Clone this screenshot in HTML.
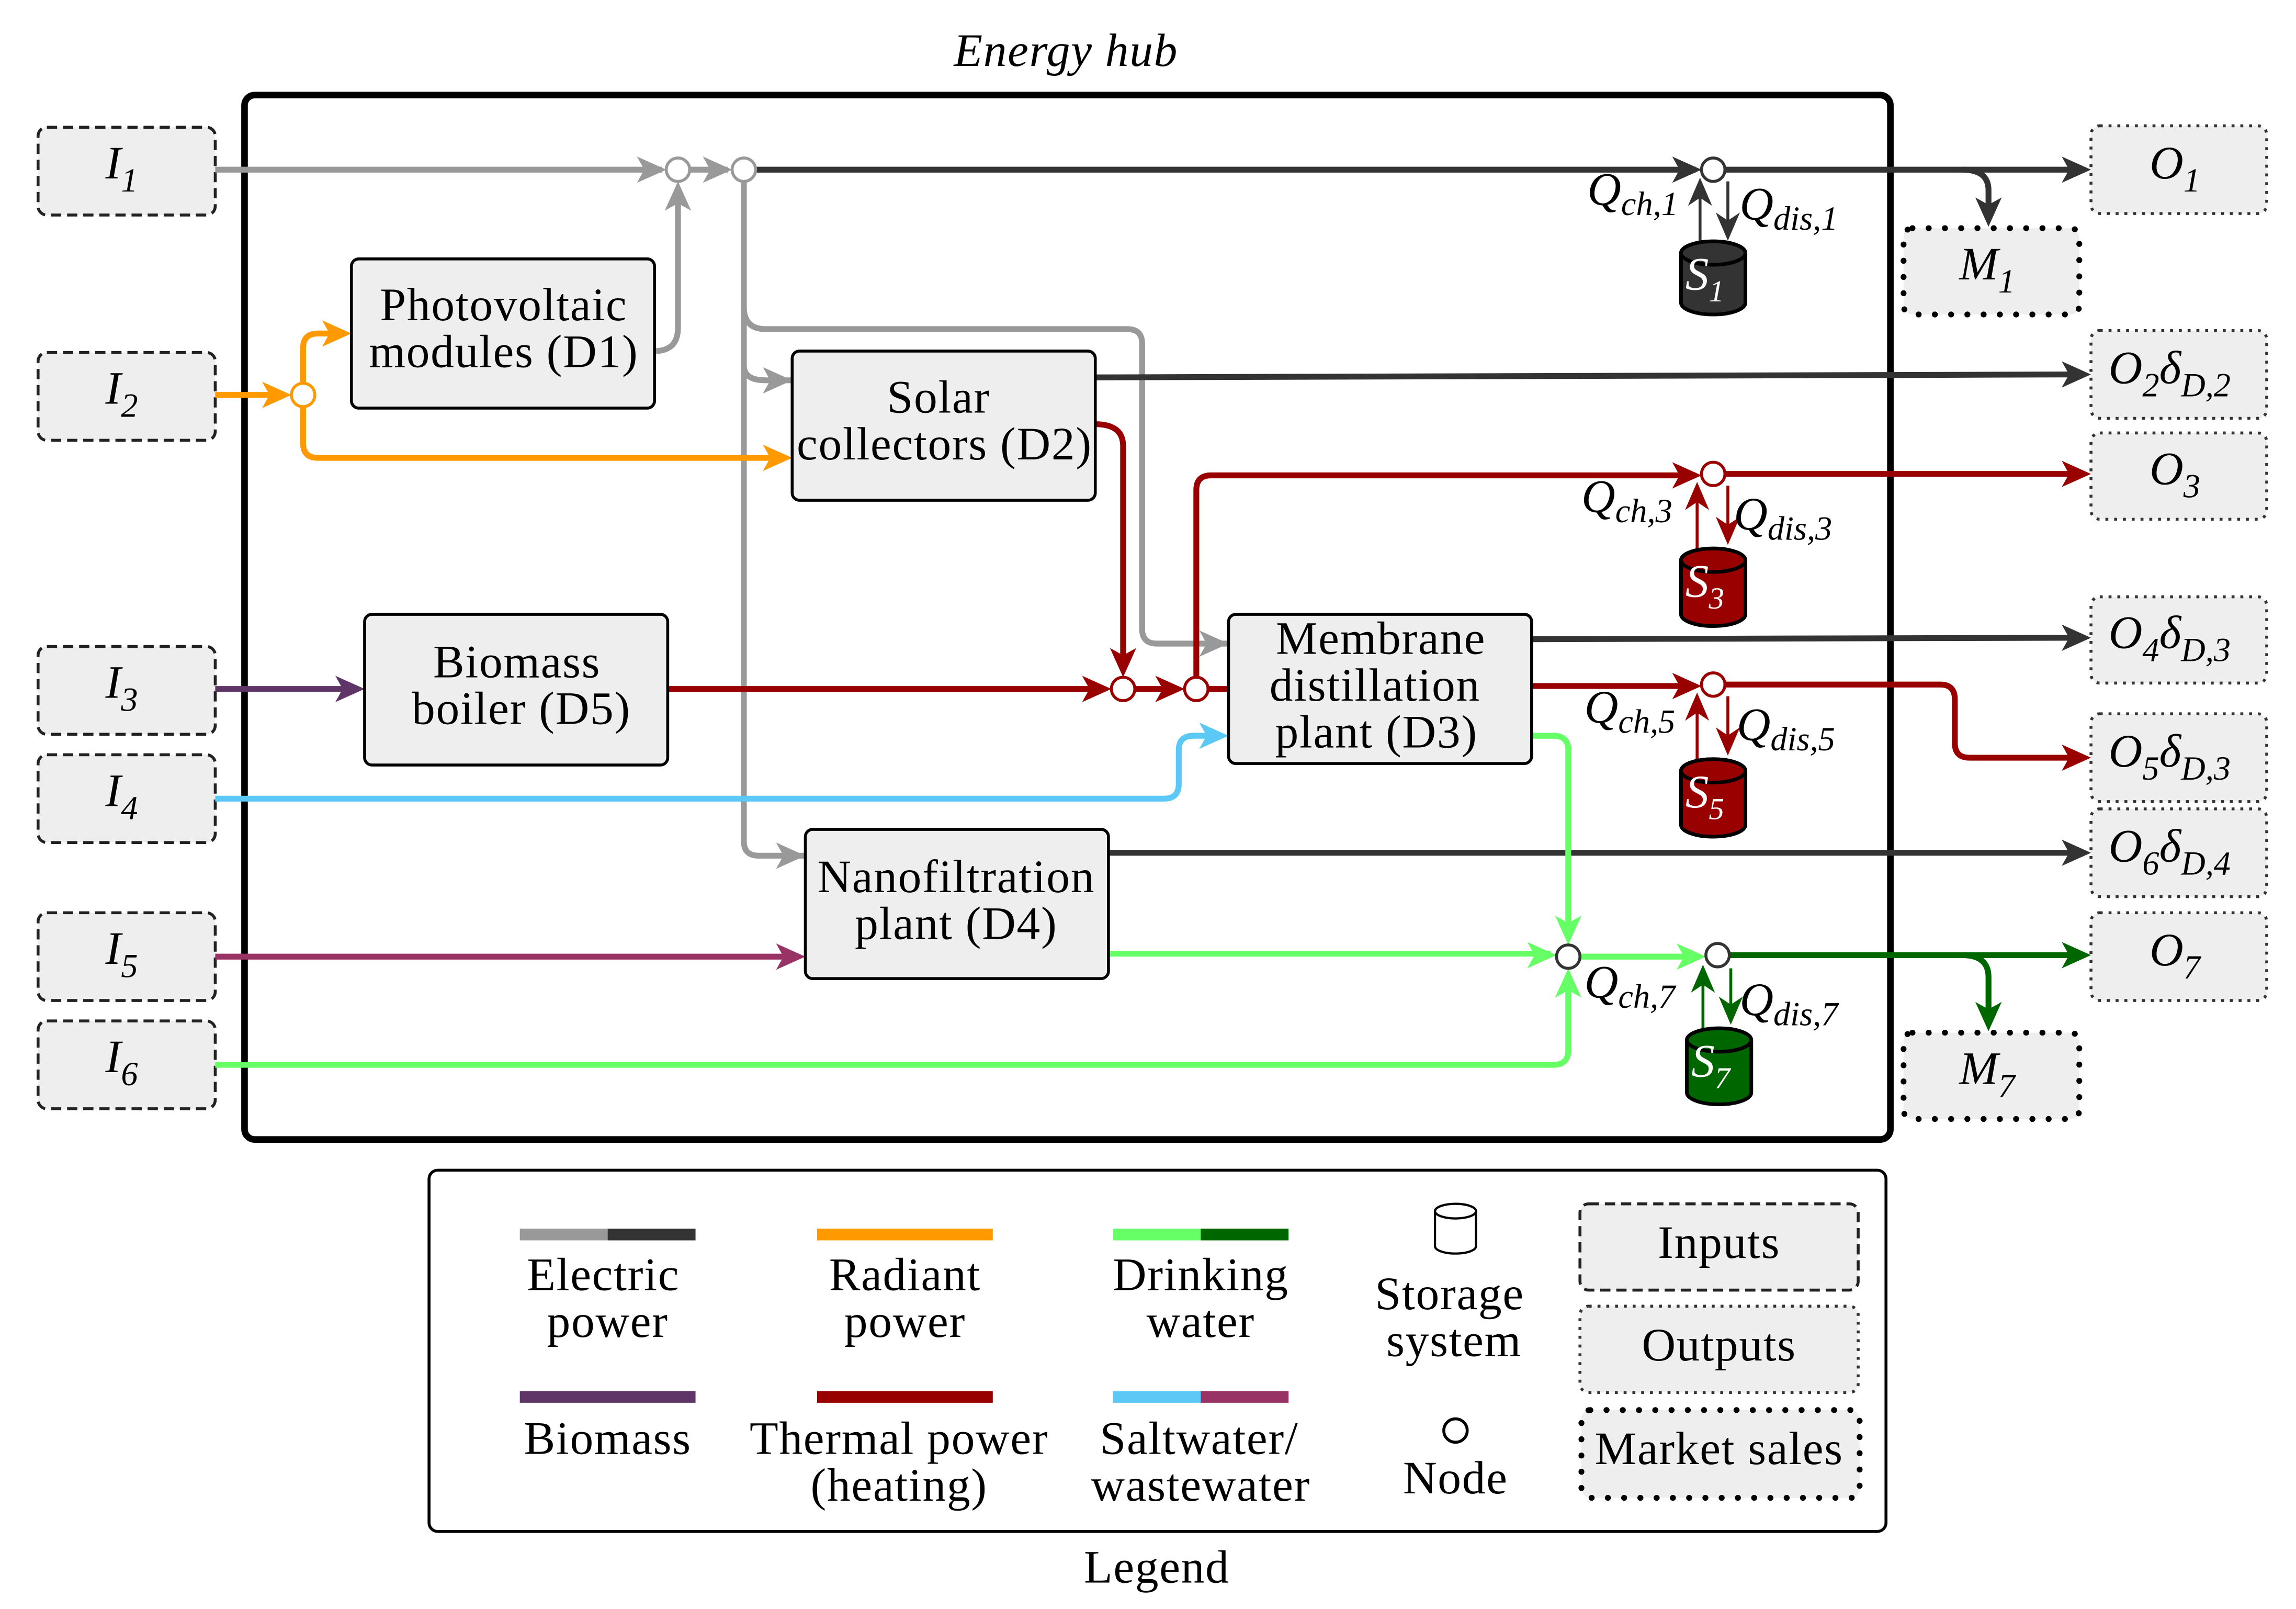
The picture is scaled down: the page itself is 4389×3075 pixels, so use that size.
<!DOCTYPE html>
<html><head><style>html,body{margin:0;padding:0;background:#fff}svg{display:block}</style></head><body>
<svg width="4389" height="3075" viewBox="0 0 1568 1100" preserveAspectRatio="none" xmlns="http://www.w3.org/2000/svg" font-family="Liberation Serif, serif">
<style>
.l{fill:none;stroke-width:4;stroke-linejoin:round}
.t{font-size:32px;text-anchor:middle;letter-spacing:0.6px}
.i{font-style:italic;font-size:32px}
</style>
<text x="728" y="45" class="t" font-style="italic" font-size="30">Energy hub</text>
<rect x="167" y="65" width="1124" height="714" rx="7" fill="none" stroke="#000" stroke-width="4.5"/>

<g fill="#eee" stroke="#222" stroke-width="2" stroke-dasharray="7,4">
<rect x="26" y="87" width="121" height="60" rx="6"/>
<rect x="26" y="241" width="121" height="60" rx="6"/>
<rect x="26" y="442" width="121" height="60" rx="6"/>
<rect x="26" y="516" width="121" height="60" rx="6"/>
<rect x="26" y="624" width="121" height="60" rx="6"/>
<rect x="26" y="698" width="121" height="60" rx="6"/>
</g>
<g class="i">
<text x="72" y="122">I<tspan font-size="23" dy="9">1</tspan></text>
<text x="72" y="276">I<tspan font-size="23" dy="9">2</tspan></text>
<text x="72" y="477">I<tspan font-size="23" dy="9">3</tspan></text>
<text x="72" y="551">I<tspan font-size="23" dy="9">4</tspan></text>
<text x="72" y="659">I<tspan font-size="23" dy="9">5</tspan></text>
<text x="72" y="733">I<tspan font-size="23" dy="9">6</tspan></text>
</g>
<g fill="#eee" stroke="#333" stroke-width="2" stroke-dasharray="2,4">
<rect x="1428" y="86" width="120" height="60" rx="6"/>
<rect x="1428" y="226" width="120" height="60" rx="6"/>
<rect x="1428" y="296" width="120" height="59" rx="6"/>
<rect x="1428" y="408" width="120" height="59" rx="6"/>
<rect x="1428" y="488" width="120" height="60" rx="6"/>
<rect x="1428" y="553" width="120" height="60" rx="6"/>
<rect x="1428" y="624" width="120" height="60" rx="6"/>
</g>
<g fill="#eee" stroke="#000" stroke-width="4" stroke-dasharray="0.1,11" stroke-linecap="round">
<rect x="1300" y="156" width="120" height="59" rx="6"/>
<rect x="1300" y="706" width="120" height="59" rx="6"/>
</g>
<g class="i">
<text x="1468" y="122">O<tspan font-size="23" dy="9">1</tspan></text>
<text x="1440" y="262">O<tspan font-size="23" dy="9">2</tspan><tspan dy="-9">δ</tspan><tspan font-size="23" dy="9">D,2</tspan></text>
<text x="1468" y="331">O<tspan font-size="23" dy="9">3</tspan></text>
<text x="1440" y="443">O<tspan font-size="23" dy="9">4</tspan><tspan dy="-9">δ</tspan><tspan font-size="23" dy="9">D,3</tspan></text>
<text x="1440" y="524">O<tspan font-size="23" dy="9">5</tspan><tspan dy="-9">δ</tspan><tspan font-size="23" dy="9">D,3</tspan></text>
<text x="1440" y="589">O<tspan font-size="23" dy="9">6</tspan><tspan dy="-9">δ</tspan><tspan font-size="23" dy="9">D,4</tspan></text>
<text x="1468" y="660">O<tspan font-size="23" dy="9">7</tspan></text>
<text x="1338" y="191">M<tspan font-size="23" dy="9">1</tspan></text>
<text x="1338" y="741">M<tspan font-size="23" dy="9">7</tspan></text>
</g>

<g class="l">
<path d="M147,116H452" stroke="#999"/>
<path d="M471,116H497" stroke="#999"/>
<path d="M447,240Q463,240 463,224V128" stroke="#999"/>
<path d="M508,124V575Q508,585 518,585H550" stroke="#999"/>
<path d="M508,210Q508,225 523,225H770Q780,225 780,235V430Q780,440 790,440H839" stroke="#999"/>
<path d="M508,250Q508,260 523,260H541" stroke="#999"/>
<path d="M516,116H1158" stroke="#333"/>
<path d="M1178,116H1416" stroke="#333"/>
<path d="M1340,116Q1358,116 1358,130V145" stroke="#333"/>
<path d="M748,258L1416,256" stroke="#333"/>
<path d="M1046,437L1416,436" stroke="#333"/>
<path d="M757,583H1416" stroke="#333"/>
<path d="M147,270H188" stroke="#f90"/>
<path d="M207,262V238Q207,228 217,228H228" stroke="#f90"/>
<path d="M207,278V303Q207,313 217,313H530" stroke="#f90"/>
<path d="M147,471H238" stroke="#5e3566"/>
<path d="M456,471H755" stroke="#900"/>
<path d="M775,471H805" stroke="#900"/>
<path d="M825,471H839" stroke="#900"/>
<path d="M748,290Q767,290 767,305V452" stroke="#900"/>
<path d="M817,463V335Q817,325 827,325H1158" stroke="#900"/>
<path d="M1178,324H1416" stroke="#900"/>
<path d="M1046,469H1158" stroke="#900"/>
<path d="M1178,468H1325Q1335,468 1335,478V508Q1335,518 1345,518H1416" stroke="#900"/>
<path d="M147,546H795Q805,546 805,536V513Q805,503 815,503H828" stroke="#5bc8f5"/>
<path d="M147,654H538" stroke="#993366"/>
<path d="M1046,503H1061Q1071,503 1071,513V634" stroke="#6f6"/>
<path d="M757,652H1059" stroke="#6f6"/>
<path d="M147,728H1061Q1071,728 1071,718V674" stroke="#6f6"/>
<path d="M1079,654H1161" stroke="#6f6"/>
<path d="M1181,653H1416" stroke="#060"/>
<path d="M1340,653Q1358,653 1358,668V695" stroke="#060"/>
</g>
<g>
<path d="M455,116l-20,-9l5,9l-5,9z" fill="#999"/>
<path d="M500,116l-20,-9l5,9l-5,9z" fill="#999"/>
<path d="M463,124l-9,20l9,-5l9,5z" fill="#999"/>
<path d="M541,260l-20,-9l5,9l-5,9z" fill="#999"/>
<path d="M839,440l-20,-9l5,9l-5,9z" fill="#999"/>
<path d="M550,585l-20,-9l5,9l-5,9z" fill="#999"/>
<path d="M1162,116l-20,-9l5,9l-5,9z" fill="#333"/>
<path d="M1428,116l-20,-9l5,9l-5,9z" fill="#333"/>
<path d="M1358,155l-9,-20l9,5l9,-5z" fill="#333"/>
<path d="M1428,256l-20,-9l5,9l-5,9z" fill="#333"/>
<path d="M1428,436l-20,-9l5,9l-5,9z" fill="#333"/>
<path d="M1428,583l-20,-9l5,9l-5,9z" fill="#333"/>
<path d="M199,270l-20,-9l5,9l-5,9z" fill="#f90"/>
<path d="M240,228l-20,-9l5,9l-5,9z" fill="#f90"/>
<path d="M541,313l-20,-9l5,9l-5,9z" fill="#f90"/>
<path d="M249,471l-20,-9l5,9l-5,9z" fill="#5e3566"/>
<path d="M759,471l-20,-9l5,9l-5,9z" fill="#900"/>
<path d="M809,471l-20,-9l5,9l-5,9z" fill="#900"/>
<path d="M767,463l-9,-20l9,5l9,-5z" fill="#900"/>
<path d="M1162,325l-20,-9l5,9l-5,9z" fill="#900"/>
<path d="M1428,324l-20,-9l5,9l-5,9z" fill="#900"/>
<path d="M1162,469l-20,-9l5,9l-5,9z" fill="#900"/>
<path d="M1428,518l-20,-9l5,9l-5,9z" fill="#900"/>
<path d="M839,503l-20,-9l5,9l-5,9z" fill="#5bc8f5"/>
<path d="M550,654l-20,-9l5,9l-5,9z" fill="#993366"/>
<path d="M1071,646l-9,-20l9,5l9,-5z" fill="#6f6"/>
<path d="M1063,653l-20,-9l5,9l-5,9z" fill="#6f6"/>
<path d="M1071,662l-9,20l9,-5l9,5z" fill="#6f6"/>
<path d="M1165,654l-20,-9l5,9l-5,9z" fill="#6f6"/>
<path d="M1428,653l-20,-9l5,9l-5,9z" fill="#060"/>
<path d="M1358,705l-9,-20l9,5l9,-5z" fill="#060"/>
</g>
<g fill="#fff" stroke-width="2">
<circle cx="463" cy="116" r="8" stroke="#999"/>
<circle cx="508" cy="116" r="8" stroke="#999"/>
<circle cx="207" cy="270" r="8" stroke="#f90"/>
<circle cx="767" cy="471" r="8" stroke="#900"/>
<circle cx="817" cy="471" r="8" stroke="#900"/>
<circle cx="1170" cy="116" r="8" stroke="#333"/>
<circle cx="1170" cy="324" r="8" stroke="#900"/>
<circle cx="1170" cy="468" r="8" stroke="#900"/>
<circle cx="1071" cy="654" r="8" stroke="#333"/>
<circle cx="1173" cy="653" r="8" stroke="#333"/>
</g>
<g stroke-width="2">
<g stroke="#333"><path d="M1161,165V124M1180,124V160" /><path d="M1161,124l-6,14l6,-4l6,4z M1180,162l-6,-14l6,4l6,-4z" fill="#333"/></g>
<g stroke="#900"><path d="M1159,375V332M1180,332V368"/><path d="M1159,332l-6,14l6,-4l6,4z M1180,370l-6,-14l6,4l6,-4z" fill="#900"/></g>
<g stroke="#900"><path d="M1159,519V476M1180,476V512"/><path d="M1159,476l-6,14l6,-4l6,4z M1180,514l-6,-14l6,4l6,-4z" fill="#900"/></g>
<g stroke="#060"><path d="M1163,703V662M1182,662V696"/><path d="M1163,662l-6,14l6,-4l6,4z M1182,698l-6,-14l6,4l6,-4z" fill="#060"/></g>
</g>
<g stroke="#000" stroke-width="2.5">
<path d="M1148,173V207A22,8 0 0 0 1192,207V173A22,8 0 0 0 1148,173Z" fill="#333"/><ellipse cx="1170" cy="173" rx="22" ry="8" fill="#333"/>
<path d="M1148,383V420A22,8 0 0 0 1192,420V383A22,8 0 0 0 1148,383Z" fill="#900"/><ellipse cx="1170" cy="383" rx="22" ry="8" fill="#900"/>
<path d="M1148,527V564A22,8 0 0 0 1192,564V527A22,8 0 0 0 1148,527Z" fill="#900"/><ellipse cx="1170" cy="527" rx="22" ry="8" fill="#900"/>
<path d="M1152,711V747A22,8 0 0 0 1196,747V711A22,8 0 0 0 1152,711Z" fill="#060"/><ellipse cx="1174" cy="711" rx="22" ry="8" fill="#060"/>
</g>
<g class="i" fill="#fff" font-size="29">
<text x="1151" y="198">S<tspan font-size="21" dy="8">1</tspan></text>
<text x="1151" y="408">S<tspan font-size="21" dy="8">3</tspan></text>
<text x="1151" y="552">S<tspan font-size="21" dy="8">5</tspan></text>
<text x="1155" y="736">S<tspan font-size="21" dy="8">7</tspan></text>
</g>
<g class="i" font-size="29">
<text x="1084" y="140">Q<tspan font-size="23" dy="7">ch,1</tspan></text>
<text x="1188" y="150">Q<tspan font-size="23" dy="7">dis,1</tspan></text>
<text x="1080" y="350">Q<tspan font-size="23" dy="7">ch,3</tspan></text>
<text x="1184" y="362">Q<tspan font-size="23" dy="7">dis,3</tspan></text>
<text x="1082" y="494">Q<tspan font-size="23" dy="7">ch,5</tspan></text>
<text x="1186" y="506">Q<tspan font-size="23" dy="7">dis,5</tspan></text>
<text x="1082" y="682">Q<tspan font-size="23" dy="7">ch,7</tspan></text>
<text x="1188" y="694">Q<tspan font-size="23" dy="7">dis,7</tspan></text>
</g>

<g fill="#eee" stroke="#000" stroke-width="2">
<rect x="240" y="177" width="207" height="102" rx="5"/>
<rect x="541" y="240" width="207" height="102" rx="5"/>
<rect x="249" y="420" width="207" height="103" rx="5"/>
<rect x="839" y="420" width="207" height="102" rx="5"/>
<rect x="550" y="567" width="207" height="102" rx="5"/>
</g>
<g class="t">
<text x="344" y="219">Photovoltaic</text><text x="344" y="251">modules (D1)</text>
<text x="641" y="282">Solar</text><text x="645" y="314">collectors (D2)</text>
<text x="353" y="463">Biomass</text><text x="356" y="495">boiler (D5)</text>
<text x="943" y="447">Membrane</text><text x="939" y="479">distillation</text><text x="940" y="511">plant (D3)</text>
<text x="653" y="610">Nanofiltration</text><text x="653" y="642">plant (D4)</text>
</g>

<rect x="293" y="800" width="995" height="247" rx="6" fill="none" stroke="#000" stroke-width="2"/>
<g stroke-width="8">
<path d="M355,844H415" stroke="#999"/><path d="M415,844H475" stroke="#333"/>
<path d="M558,844H678" stroke="#f90"/>
<path d="M760,844H820" stroke="#6f6"/><path d="M820,844H880" stroke="#060"/>
<path d="M355,955H475" stroke="#5e3566"/>
<path d="M558,955H678" stroke="#900"/>
<path d="M760,955H820" stroke="#5bc8f5"/><path d="M820,955H880" stroke="#993366"/>
</g>
<g class="t">
<text x="412" y="882">Electric</text><text x="415" y="914">power</text>
<text x="618" y="882">Radiant</text><text x="618" y="914">power</text>
<text x="820" y="882">Drinking</text><text x="820" y="914">water</text>
<text x="990" y="895">Storage</text><text x="993" y="927">system</text>
<text x="415" y="994">Biomass</text>
<text x="614" y="994">Thermal power</text><text x="614" y="1026">(heating)</text>
<text x="819" y="994">Saltwater/</text><text x="820" y="1026">wastewater</text>
<text x="994" y="1021">Node</text>
<text x="790" y="1082">Legend</text>
</g>
<path d="M980,828V852A14,5 0 0 0 1008,852V828A14,5 0 0 0 980,828Z" fill="#fff" stroke="#000" stroke-width="1.5"/><ellipse cx="994" cy="828" rx="14" ry="5" fill="#fff" stroke="#000" stroke-width="1.5"/>
<circle cx="994" cy="978" r="8" fill="#fff" stroke="#000" stroke-width="2"/>
<rect x="1079" y="823" width="190" height="59" rx="6" fill="#eee" stroke="#222" stroke-width="2" stroke-dasharray="7,4"/>
<rect x="1079" y="893" width="190" height="59" rx="6" fill="#eee" stroke="#333" stroke-width="2" stroke-dasharray="2,4"/>
<rect x="1080" y="964" width="190" height="60" rx="6" fill="#eee" stroke="#000" stroke-width="4" stroke-dasharray="0.1,11" stroke-linecap="round"/>
<g class="t">
<text x="1174" y="860">Inputs</text>
<text x="1174" y="930">Outputs</text>
<text x="1174" y="1001">Market sales</text>
</g>
</svg>
</body></html>
